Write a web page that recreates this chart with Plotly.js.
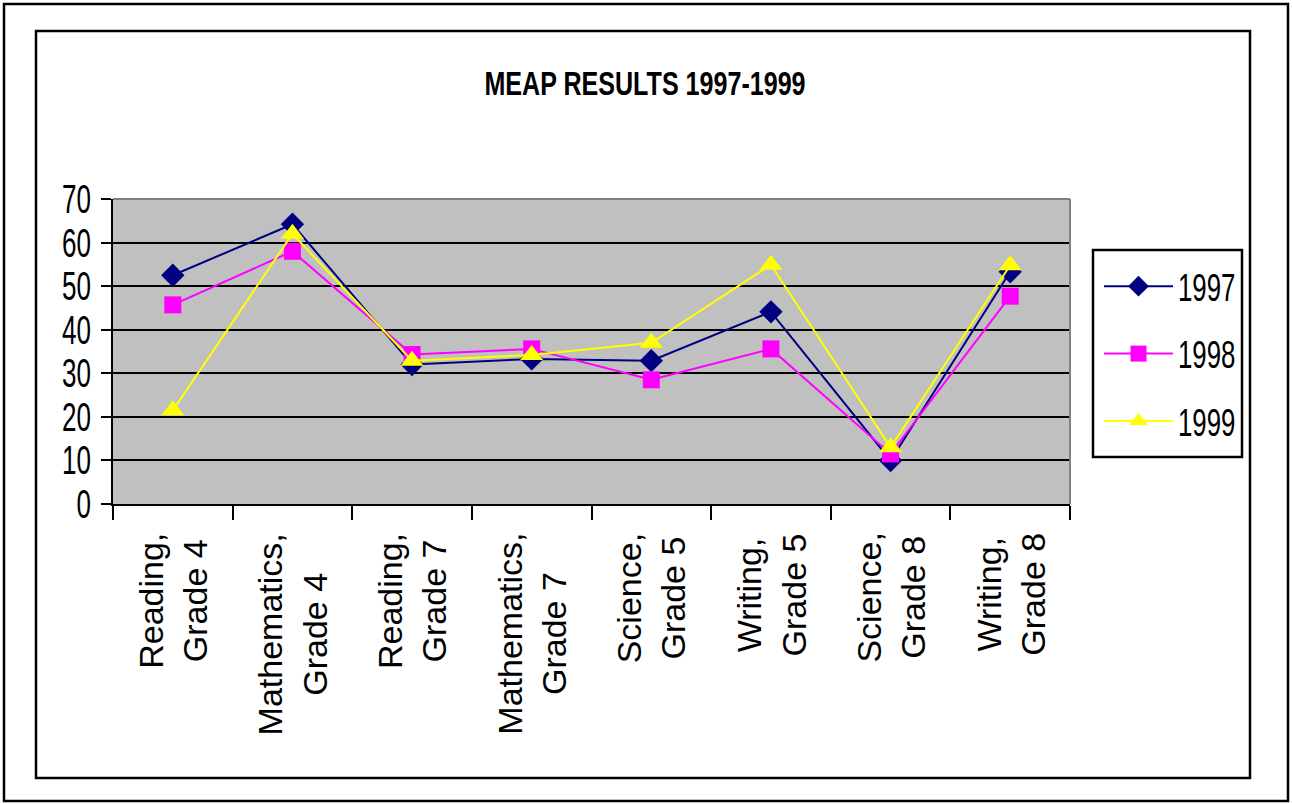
<!DOCTYPE html>
<html>
<head>
<meta charset="utf-8">
<script src="https://cdn.plot.ly/plotly-3.0.1.min.js"></script>
<style>
  html, body { margin: 0; padding: 0; background: #ffffff; }
  #chart { width: 1293px; height: 804px; }
</style>
</head>
<body>
<div id="chart"></div>
<script>
const categories = [
  "Reading, Grade 4", "Mathematics, Grade 4", "Reading, Grade 7", "Mathematics, Grade 7",
  "Science, Grade 5", "Writing, Grade 5", "Science, Grade 8", "Writing, Grade 8"
];
const tickLabels = [
  "Reading,<br>Grade 4", "Mathematics,<br>Grade 4", "Reading,<br>Grade 7", "Mathematics,<br>Grade 7",
  "Science,<br>Grade 5", "Writing,<br>Grade 5", "Science,<br>Grade 8", "Writing,<br>Grade 8"
];
const seriesNames = ["1997", "1998", "1999"];
const v1997 = [52.5, 64.2, 32.0, 33.3, 32.9, 44.1, 10.0, 53.3];
const v1998 = [45.7, 58.0, 34.3, 35.6, 28.5, 35.6, 11.5, 47.7];
const v1999 = [21.5, 62.0, 32.9, 34.2, 37.0, 54.9, 13.0, 54.8];
const yTicks = [0, 10, 20, 30, 40, 50, 60, 70];

const W = 1293, H = 804;
const M = {l: 113, r: 223, t: 199, b: 300};
const PW = W - M.l - M.r, PH = H - M.t - M.b;
const px = x => (x - M.l) / PW;
const py = y => (H - M.b - y) / PH;

const SANS = '"Liberation Sans", Arial, sans-serif';

const traces = [
  {name: seriesNames[0], y: v1997, color: '#000080', symbol: 'diamond', size: 18},
  {name: seriesNames[1], y: v1998, color: '#FF00FF', symbol: 'square', size: 17},
  {name: seriesNames[2], y: v1999, color: '#FFFF00', symbol: 'triangle-up', size: 20}
].map((s, i) => ({
  type: 'scatter', mode: 'lines+markers', name: s.name,
  x: categories, y: s.y,
  legendgroup: 'g' + i,
  line: {color: s.color, width: 2},
  marker: {color: s.color, symbol: s.symbol, size: s.size, line: {width: 0}},
  cliponaxis: false
}));

const annotations = categories.map((c, i) => ({
  x: c, xref: 'x', y: py(531), yref: 'paper',
  text: tickLabels[i], showarrow: false, textangle: -90,
  xanchor: 'center', yanchor: 'top', align: 'center',
  font: {family: SANS, size: 34, color: '#000000'}
}));

const shapes = [
  {type: 'rect', xref: 'paper', yref: 'paper', x0: px(4), x1: px(1288), y0: py(801), y1: py(4),
   line: {color: '#000000', width: 2.5}, layer: 'below'},
  {type: 'rect', xref: 'paper', yref: 'paper', x0: px(36), x1: px(1250), y0: py(778), y1: py(31),
   line: {color: '#000000', width: 2.5}, layer: 'below'},
  {type: 'rect', xref: 'paper', yref: 'paper', x0: px(1093), x1: px(1242), y0: py(457), y1: py(250),
   line: {color: '#000000', width: 2.5}, fillcolor: '#FFFFFF', layer: 'below'},
  {type: 'line', xref: 'paper', yref: 'paper', x0: 0, x1: 1, y0: 1, y1: 1, line: {color: '#808080', width: 2}},
  {type: 'line', xref: 'paper', yref: 'paper', x0: 1, x1: 1, y0: 0, y1: 1, line: {color: '#808080', width: 2}}
];

const layout = {
  width: W, height: H,
  margin: M,
  paper_bgcolor: '#FFFFFF',
  plot_bgcolor: '#C0C0C0',
  showlegend: true,
  title: {
    text: 'MEAP RESULTS 1997-1999',
    xref: 'container', yref: 'container', x: 645 / W, y: 1 - 83 / H,
    xanchor: 'center', yanchor: 'middle',
    font: {family: SANS, size: 33, weight: 'bold', color: '#000000'}
  },
  xaxis: {
    type: 'category', categoryorder: 'array', categoryarray: categories,
    range: [-0.5, 7.5], tickson: 'boundaries',
    showticklabels: false, ticks: 'outside', ticklen: 14, tickwidth: 2, tickcolor: '#000000',
    showline: true, linecolor: '#000000', linewidth: 2,
    showgrid: false, zeroline: false, fixedrange: true
  },
  yaxis: {
    range: [0, 70], tickmode: 'array', tickvals: yTicks, ticktext: yTicks.map(String),
    ticks: 'outside', ticklen: 10, tickwidth: 2, tickcolor: '#000000',
    showline: true, linecolor: '#000000', linewidth: 2,
    showgrid: true, gridcolor: '#000000', gridwidth: 2, zeroline: false,
    tickfont: {family: SANS, size: 40, color: '#000000'},
    ticklabelstandoff: 2, fixedrange: true
  },
  legend: {
    x: px(1099), y: py(255), xanchor: 'left', yanchor: 'top',
    xref: 'paper', yref: 'paper',
    bgcolor: 'rgba(0,0,0,0)', borderwidth: 0,
    font: {family: SANS, size: 38, color: '#000000'},
    traceorder: 'grouped', tracegroupgap: 15, itemwidth: 69
  },
  annotations: annotations,
  shapes: shapes
};

function condense(selector, factor) {
  document.querySelectorAll('#chart ' + selector).forEach(t => {
    const w = t.getComputedTextLength();
    if (w > 0) {
      t.setAttribute('textLength', (w * factor).toFixed(2));
      t.setAttribute('lengthAdjust', 'spacingAndGlyphs');
    }
  });
}

Plotly.newPlot('chart', traces, layout, {displayModeBar: false, staticPlot: true}).then(() => {
  condense('.gtitle', 0.76);
  condense('.ytick text', 0.65);
  condense('.legendtext', 0.68);
});
</script>
</body>
</html>
